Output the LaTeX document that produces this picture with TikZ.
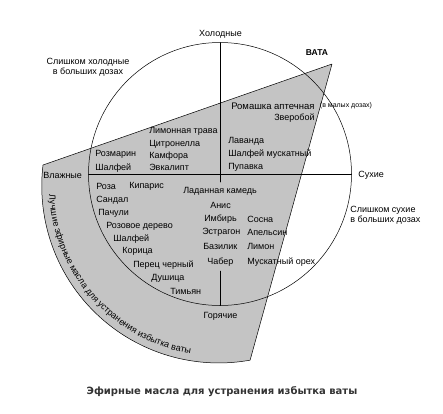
\documentclass[tikz,border=0pt]{standalone}
\usepackage{fontspec}
\setmainfont{Liberation Sans}
\newfontfamily\capfont{DejaVu Sans}
\usetikzlibrary{calc,decorations.text}

\begin{document}
\begin{tikzpicture}[x=1pt,y=-1pt,line join=round,line cap=round,line width=0.5pt]
        \tikzset{oil/.style={font=\fontsize{9}{10}\selectfont,inner sep=0pt,anchor=west},
                 side/.style={font=\fontsize{9}{10}\selectfont,inner sep=0pt,align=center}}
        \useasboundingbox (0,0) rectangle (443,413);
        \coordinate (O) at (220,174);
        \coordinate (O2) at (219,186);
        \coordinate (tip) at (332,64);
        \coordinate (wet) at (43,165);
        \coordinate (N) at ($(O)+(90:131.5pt)$);
        \coordinate (S) at ($(O)+(-90:131.5pt)$);
        \coordinate (W) at ($(O)+(180:131.5pt)$);
        \coordinate (E) at ($(O)+(0:131.5pt)$);
        \coordinate (Nend) at (220,182);
        \coordinate (Sbeg) at (220,271);
        % grey sector
        \filldraw[fill=black!23] (tip) -- (wet) arc[start angle=-186.8,end angle=-79.8,radius=177pt] -- cycle;
        \draw (O) circle[radius=131.5pt];
        \draw (W) -- (E);
        \draw (N) -- (Nend);
        \draw (Sbeg) -- (S);
        \path[decorate,decoration={text along path,text align=left,
            text={|\fontsize{9}{10}\selectfont|Лучшие эфирные масла для устранения избытка ваты}}]
            ($(O2)+(183:170pt)$) arc[start angle=183,end angle=268,radius=170pt];
        % sides
        \node[side] (cold) at (220.5,34) {Холодные};
        \node[side] (hot) at (220.5,316) {Горячие};
        \node[side,anchor=west] (moist) at (43,175) {Влажные};
        \node[side,anchor=west] (dry) at (358,175) {Сухие};
        \node[side] (toocold) at (88,67) {Слишком холодные\\в больших дозах};
        \node[side,align=left,anchor=west] (toodry) at (350,215) {Слишком сухие\\в больших дозах};
        \node[side,font=\bfseries\fontsize{8.5}{10}\selectfont] (vata) at (317,53) {ВАТА};
        % oils
        \foreach \n/\x/\y/\t in {1/149/131.7/Лимонная трава, 2/149/144/Цитронелла,
            3/149/155.7/Камфора, 4/149/167.7/Эвкалипт, 5/95/154.3/Розмарин, 6/95/167.7/Шалфей,
            7/228/141.7/Лаванда, 8/228/154.3/Шалфей мускатный, 9/228/167/Пупавка,
            10/96/186.7/Роза, 11/129/186.7/Кипарис, 12/96/200/Сандал, 13/98/213/Пачули,
            14/106/226.7/Розовое дерево, 15/113/239/Шалфей, 16/122/251.7/Корица,
            17/133/265/Перец черный, 18/151/278/Душица, 19/170/291.7/Тимьян,
            20/183/191/Ладанная камедь, 21/210/205/Анис, 22/204/219/Имбирь, 23/247/219/Сосна,
            24/202/232.7/Эстрагон, 25/247/232.7/Апельсин, 26/203/246.7/Базилик,
            27/247/246.7/Лимон, 28/207/261.7/Чабер, 29/247/261.7/Мускатный орех,
            30/274/118/Зверобой}
            \node[oil] (oil\n) at (\x,\y) {\t};
        \node[oil,font=\fontsize{9.5}{10}\selectfont] (chamomile) at (231,106) {Ромашка аптечная};
        \node[oil,font=\fontsize{7}{8}\selectfont] (dose) at ([xshift=5pt]chamomile.east) {(в малых дозах)};
        \node[font=\capfont\bfseries\fontsize{10}{12}\selectfont,text=black!80] (caption) at (222,392)
            {Эфирные масла для устранения избытка ваты};
\end{tikzpicture}
\end{document}
